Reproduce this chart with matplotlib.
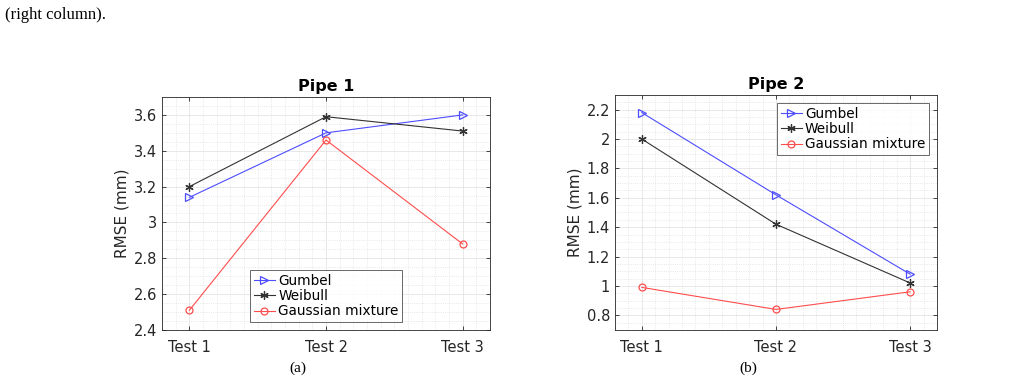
import numpy as np
import matplotlib.pyplot as plt
from matplotlib.ticker import MultipleLocator

# Datos
tests = ['Test 1', 'Test 2', 'Test 3']
x = [1, 2, 3]

pipe1_gumbel = [3.14, 3.50, 3.60]
pipe1_weibull = [3.20, 3.59, 3.51]
pipe1_gauss = [2.51, 3.46, 2.88]

pipe2_gumbel = [2.18, 1.62, 1.08]
pipe2_weibull = [2.00, 1.42, 1.02]
pipe2_gauss = [0.99, 0.84, 0.96]

plt.rcParams['font.family'] = ['DejaVu Sans']

fig = plt.figure(figsize=(10.09, 3.81), dpi=100)

# Texto de cabecera (serif)
fig.text(5 / 1009, 1 - 15 / 381, '(right column).', family='Liberation Serif',
         fontsize=12, va='center', ha='left')

blue = (0.3, 0.3, 1.0)
black = (0.2, 0.2, 0.2)
red = (1.0, 0.3, 0.3)


def panel(ax, gum, wei, gau, title, ylim, yticks, ylabels, legloc):
    ax.plot(x, gum, color=blue, lw=0.8, marker='>', ms=5.5, mfc='none',
            mew=0.9, label='Gumbel')
    ax.plot(x, wei, color=black, lw=0.8, marker=(6, 2, 0), ms=6,
            mew=0.9, label='Weibull')
    ax.plot(x, gau, color=red, lw=0.8, marker='o', ms=5, mfc='none',
            mew=0.9, label='Gaussian mixture')

    ax.set_xlim(0.8, 3.2)
    ax.set_ylim(*ylim)
    ax.set_xticks(x)
    ax.set_xticklabels(tests)
    ax.set_yticks(yticks)
    ax.set_yticklabels(ylabels)
    ax.xaxis.set_minor_locator(MultipleLocator(0.1))
    ax.yaxis.set_minor_locator(MultipleLocator(0.05))

    ax.tick_params(which='both', direction='in', top=True, right=True,
                   colors='#262626', labelsize=10.5, length=3, width=0.6)
    ax.tick_params(which='minor', length=0)
    ax.tick_params(axis='x', pad=7)

    ax.grid(which='major', color='#dedede', linestyle='-', linewidth=0.5)
    ax.grid(which='minor', color='#e0e0e0', linestyle=':', linewidth=0.6)
    ax.set_axisbelow(True)

    for sp in ax.spines.values():
        sp.set_color('#262626')
        sp.set_linewidth(0.6)

    ax.set_ylabel('RMSE (mm)', fontsize=11, color='#262626', labelpad=3)
    ax.set_title(title, fontsize=11.5, fontweight='bold', pad=4)

    leg = ax.legend(loc=legloc, fontsize=9.8, frameon=True, fancybox=False,
                    edgecolor='#262626', handlelength=1.6, handletextpad=0.2,
                    borderpad=0.25, labelspacing=0.1, borderaxespad=0.6)
    leg.get_frame().set_linewidth(0.6)


ax1 = fig.add_axes([0.1606, 0.1339, 0.325, 0.6115])
panel(ax1, pipe1_gumbel, pipe1_weibull, pipe1_gauss, 'Pipe 1', (2.4, 3.7),
      [2.4, 2.6, 2.8, 3.0, 3.2, 3.4, 3.6],
      ['2.4', '2.6', '2.8', '3', '3.2', '3.4', '3.6'], 'lower center')

ax2 = fig.add_axes([0.6095, 0.1339, 0.3191, 0.6168])
panel(ax2, pipe2_gumbel, pipe2_weibull, pipe2_gauss, 'Pipe 2', (0.7, 2.3),
      [0.8, 1.0, 1.2, 1.4, 1.6, 1.8, 2.0, 2.2],
      ['0.8', '1', '1.2', '1.4', '1.6', '1.8', '2', '2.2'], 'upper right')

# Subtítulos (a), (b)
fig.text(298 / 1009, 1 - 368 / 381, '(a)', family='Liberation Serif',
         fontsize=11, ha='center', va='center')
fig.text(748 / 1009, 1 - 368 / 381, '(b)', family='Liberation Serif',
         fontsize=11, ha='center', va='center')

plt.savefig('out.png', dpi=100)
